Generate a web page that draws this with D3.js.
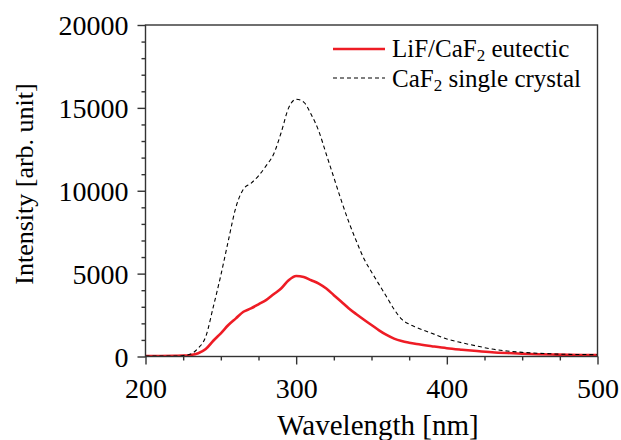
<!DOCTYPE html>
<html>
<head>
<meta charset="utf-8">
<script src="https://cdn.jsdelivr.net/npm/d3@7"></script>
<style>
    body { margin: 0; background: #fff; }
    svg { font-family: "Liberation Serif", "Times New Roman", serif; }
</style>
</head>
<body>
<svg width="621" height="440"></svg>
<script>
// wavelength [nm]
const wavelength = [200, 210, 220, 225, 230, 235, 240, 245, 250, 255, 260, 265, 270, 275, 280, 285, 290, 295, 300,
    305, 310, 315, 320, 325, 330, 335, 340, 345, 350, 355, 360, 365, 370, 375, 380, 390, 400, 410, 420, 430,
    440, 450, 460, 470, 480, 490, 500];
// LiF/CaF2 eutectic
const eutectic = [30, 30, 40, 50, 90, 200, 450, 950, 1400, 1900, 2300, 2700, 2900, 3150, 3400, 3750, 4100, 4600, 4860,
    4800, 4600, 4400, 4100, 3700, 3300, 2900, 2550, 2220, 1900, 1580, 1300, 1080, 930, 830, 750, 620, 500, 410, 330, 260,
    210, 170, 140, 120, 105, 95, 90];
// CaF2 single crystal
const single = [20, 20, 30, 60, 150, 500, 1200, 3000, 4900, 7000, 9000, 10100, 10450, 10900, 11500, 12200, 13500, 15000, 15520,
    15350, 14600, 13600, 12200, 10800, 9400, 8100, 6950, 5900, 5100, 4350, 3600, 2850, 2250, 1950, 1750, 1400, 1060, 830, 630, 450,
    330, 250, 200, 160, 130, 120, 110];
const xTicks = [200, 300, 400, 500];
const yTicks = [0, 5000, 10000, 15000, 20000];

const svg = d3.select("svg");
const mLeft = 145.5, mRight = 597.5, mTop = 25, mBottom = 356.5;
const axisColor = "#333";

const x = d3.scaleLinear().domain([200, 500]).range([mLeft, mRight]);
const y = d3.scaleLinear().domain([0, 20000]).range([mBottom, mTop]);

svg.append("defs").append("clipPath").attr("id", "plot")
    .append("rect").attr("x", mLeft).attr("y", mTop).attr("width", mRight - mLeft).attr("height", mBottom - mTop);

const line = (vals) => d3.line()
    .x((d, i) => x(wavelength[i]))
    .y(d => y(d))
    .curve(d3.curveMonotoneX)(vals);

const g = svg.append("g").attr("clip-path", "url(#plot)");
g.append("path").attr("d", line(eutectic))
    .attr("fill", "none").attr("stroke", "#ee1c25").attr("stroke-width", 2.6);
g.append("path").attr("d", line(single))
    .attr("fill", "none").attr("stroke", "#000").attr("stroke-width", 1.1)
    .attr("stroke-dasharray", "4,3");

// minor ticks
const xMinor = d3.range(200, 501, 25).filter(v => !xTicks.includes(v));
const yMinor = d3.range(0, 20001, 1000).filter(v => !yTicks.includes(v));

const xAxis = svg.append("g").attr("transform", `translate(0,${mBottom})`)
    .call(d3.axisBottom(x).tickValues(xTicks).tickFormat(d3.format("d")).tickSize(8).tickPadding(10).tickSizeOuter(0));
svg.append("g").attr("transform", `translate(0,${mBottom})`)
    .call(d3.axisBottom(x).tickValues(xMinor).tickSize(4).tickFormat("").tickSizeOuter(0));
const yAxis = svg.append("g").attr("transform", `translate(${mLeft},0)`)
    .call(d3.axisLeft(y).tickValues(yTicks).tickFormat(d3.format("d")).tickSize(8).tickPadding(9).tickSizeOuter(0));
svg.append("g").attr("transform", `translate(${mLeft},0)`)
    .call(d3.axisLeft(y).tickValues(yMinor).tickSize(4).tickFormat("").tickSizeOuter(0));

svg.selectAll(".domain").remove();
svg.selectAll(".tick line").attr("stroke", axisColor).attr("stroke-width", 1.4);
svg.selectAll(".tick text").attr("fill", "#000")
    .style("font-family", "Liberation Serif").style("font-size", "28px");
xAxis.selectAll(".tick text").attr("dy", "0.85em");
yAxis.selectAll(".tick text").attr("dy", "0.34em");

// frame
svg.append("rect").attr("x", mLeft).attr("y", mTop).attr("width", mRight - mLeft).attr("height", mBottom - mTop)
    .attr("fill", "none").attr("stroke", axisColor).attr("stroke-width", 1.4);

// axis titles
svg.append("text").attr("x", 378).attr("y", 435).attr("text-anchor", "middle")
    .style("font-size", "29px").text("Wavelength [nm]");
svg.append("text").attr("transform", "translate(33,184) rotate(-90)").attr("text-anchor", "middle")
    .style("font-size", "26px").text("Intensity [arb. unit]");

// legend
const legend = svg.append("g");
legend.append("line").attr("x1", 333).attr("x2", 385).attr("y1", 49).attr("y2", 49)
    .attr("stroke", "#ee1c25").attr("stroke-width", 2.6);
legend.append("line").attr("x1", 333).attr("x2", 385).attr("y1", 78).attr("y2", 78)
    .attr("stroke", "#000").attr("stroke-width", 1.1).attr("stroke-dasharray", "4,3");

const t1 = legend.append("text").attr("x", 392).attr("y", 57).style("font-size", "25px");
t1.append("tspan").text("LiF/CaF");
t1.append("tspan").attr("dy", 4).style("font-size", "17px").text("2");
t1.append("tspan").attr("dy", -4).text(" eutectic");
const t2 = legend.append("text").attr("x", 392).attr("y", 87).style("font-size", "25px");
t2.append("tspan").text("CaF");
t2.append("tspan").attr("dy", 4).style("font-size", "17px").text("2");
t2.append("tspan").attr("dy", -4).text(" single crystal");
</script>
</body>
</html>
